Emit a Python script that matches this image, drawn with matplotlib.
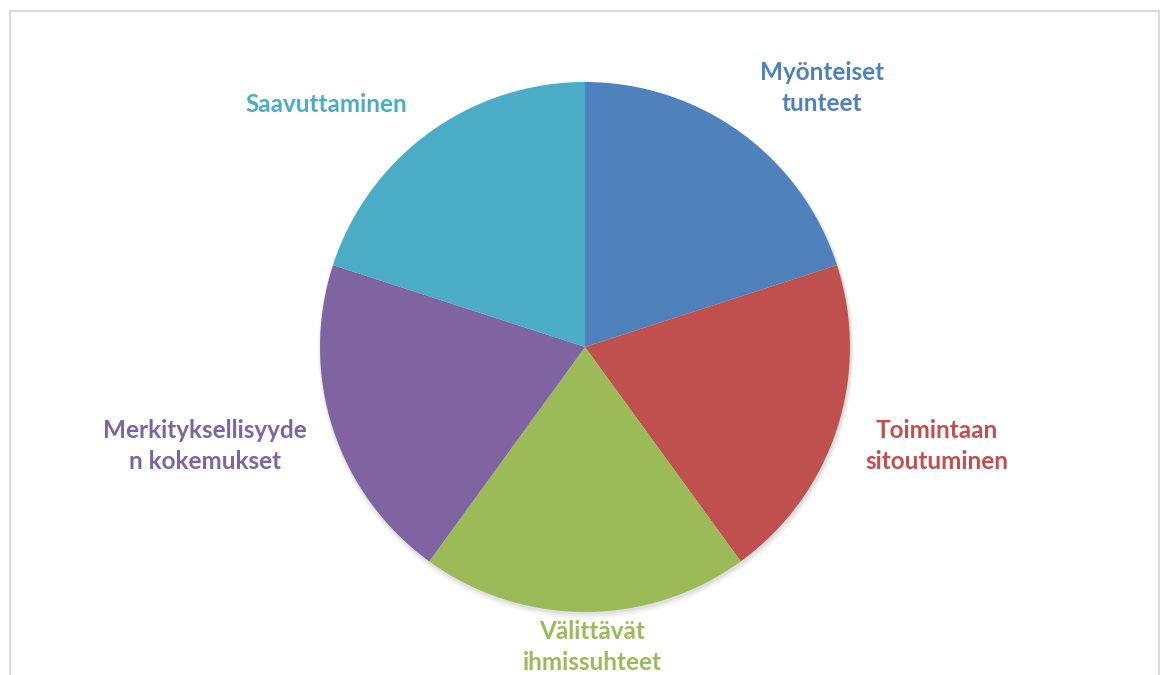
import matplotlib.pyplot as plt
from matplotlib.patches import Rectangle, Circle

# Data: five equal parts
labels = ["Myönteiset\ntunteet", "Toimintaan\nsitoutuminen", "Välittävät\nihmissuhteet",
          "Merkityksellisyyde\nn kokemukset", "Saavuttaminen"]
values = [1, 1, 1, 1, 1]
colors = ["#4F81BD", "#C0504D", "#9BBB59", "#8064A2", "#4BACC6"]

# label positions in pixels (x, y from top)
label_pos = [(822, 88), (937, 446), (592, 647), (205, 446), (326, 104)]

W, H = 1160, 675
fig = plt.figure(figsize=(W / 100, H / 100), dpi=100)
ax = fig.add_axes([0, 0, 1, 1])
ax.set_xlim(0, W)
ax.set_ylim(0, H)
ax.set_aspect("equal")
ax.axis("off")

# chart frame
ax.add_patch(Rectangle((9.5, -5), 1149, H - 11 + 5, fill=False, edgecolor="#d9d9d9", lw=1.5))

cx, cy, r = 585, H - 347, 265

# soft shadow
for i, a in enumerate([0.05, 0.04, 0.03]):
    ax.add_patch(Circle((cx + 1, cy - 2 - i), r + 1 + i, color="black", alpha=a, lw=0))

ax.pie(values, colors=colors, startangle=90, counterclock=False,
       center=(cx, cy), radius=r, frame=True,
       wedgeprops=dict(linewidth=0))
ax.set_xlim(0, W)
ax.set_ylim(0, H)
ax.axis("off")

for lab, (x, y), c in zip(labels, label_pos, colors):
    ax.text(x, H - y, lab, color=c, fontsize=17.5, fontweight="bold", family="Lato",
            ha="center", va="center", linespacing=1.38)

fig.savefig("out.png", dpi=100)
